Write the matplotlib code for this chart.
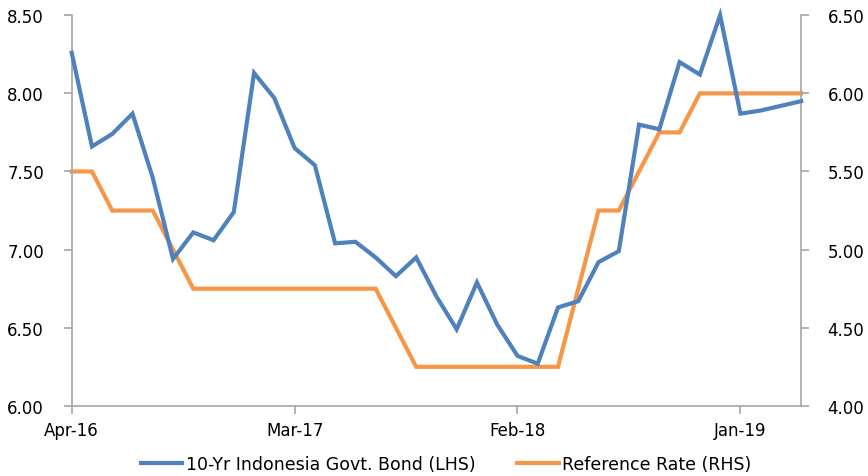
import numpy as np
import matplotlib.pyplot as plt

# monthly, Apr-16 .. Apr-19
months = ["Apr-16", "May-16", "Jun-16", "Jul-16", "Aug-16", "Sep-16", "Oct-16", "Nov-16",
          "Dec-16", "Jan-17", "Feb-17", "Mar-17", "Apr-17", "May-17", "Jun-17", "Jul-17",
          "Aug-17", "Sep-17", "Oct-17", "Nov-17", "Dec-17", "Jan-18", "Feb-18", "Mar-18",
          "Apr-18", "May-18", "Jun-18", "Jul-18", "Aug-18", "Sep-18", "Oct-18", "Nov-18",
          "Dec-18", "Jan-19", "Feb-19", "Mar-19", "Apr-19"]

bond_10y = [8.26, 7.66, 7.74, 7.87, 7.46, 6.94, 7.11, 7.06, 7.24, 8.13, 7.97, 7.65,
            7.54, 7.04, 7.05, 6.95, 6.83, 6.95, 6.70, 6.49, 6.79, 6.52, 6.32, 6.27,
            6.63, 6.67, 6.92, 6.99, 7.80, 7.77, 8.20, 8.12, 8.50, 7.87, 7.89, 7.92, 7.95]

ref_rate = [5.50, 5.50, 5.25, 5.25, 5.25, 5.00, 4.75, 4.75, 4.75, 4.75, 4.75, 4.75,
            4.75, 4.75, 4.75, 4.75, 4.50, 4.25, 4.25, 4.25, 4.25, 4.25, 4.25, 4.25,
            4.25, 4.75, 5.25, 5.25, 5.50, 5.75, 5.75, 6.00, 6.00, 6.00, 6.00, 6.00, 6.00]

tick_idx = [0, 11, 22, 33]
left_ticks = [6.00, 6.50, 7.00, 7.50, 8.00, 8.50]
right_ticks = [4.00, 4.50, 5.00, 5.50, 6.00, 6.50]

BLUE = "#4F81BD"
ORANGE = "#F79646"
GREY = "#A6A6A6"

plt.rcParams["font.family"] = ["DejaVu Sans"]
plt.rcParams["font.size"] = 12

fig = plt.figure(figsize=(8.68, 4.77), dpi=100)
ax = fig.add_axes([0.0826, 0.147, 0.8404, 0.819])
ax2 = ax.twinx()

x = np.arange(len(months))
l1, = ax.plot(x, bond_10y, color=BLUE, lw=3, label="10-Yr Indonesia Govt. Bond (LHS)",
              solid_joinstyle="miter", clip_on=False, zorder=3)
l2, = ax2.plot(x, ref_rate, color=ORANGE, lw=3, label="Reference Rate (RHS)",
               solid_joinstyle="miter", clip_on=False)
ax.set_zorder(ax2.get_zorder() + 1)
ax.patch.set_visible(False)

ax.set_xlim(0, len(months) - 1)
ax.set_ylim(6.0, 8.5)
ax2.set_ylim(4.0, 6.5)
ax.set_yticks(left_ticks)
ax.set_yticklabels([f"{v:.2f}" for v in left_ticks])
ax2.set_yticks(right_ticks)
ax2.set_yticklabels([f"{v:.2f}" for v in right_ticks])
ax.set_xticks(tick_idx)
ax.set_xticklabels([months[i] for i in tick_idx])

for a in (ax, ax2):
    a.spines["top"].set_visible(False)
    for s in ("left", "right", "bottom"):
        a.spines[s].set_color(GREY)
        a.spines[s].set_linewidth(1.2)
    a.tick_params(colors=GREY, labelcolor="black", length=6, width=1.2, labelsize=12)
ax.spines["right"].set_visible(False)
ax2.spines["left"].set_visible(False)
ax2.spines["bottom"].set_visible(False)
ax.tick_params(axis="y", pad=14)
ax2.tick_params(axis="y", pad=13)
ax.tick_params(axis="x", pad=5)

fig.legend([l1, l2], [l1.get_label(), l2.get_label()], loc="center",
           bbox_to_anchor=(0.514, 0.025), ncol=2, frameon=False, fontsize=12.5,
           handlelength=2.4, handletextpad=0.2, columnspacing=2.4)

fig.savefig("out.png", dpi=100)
